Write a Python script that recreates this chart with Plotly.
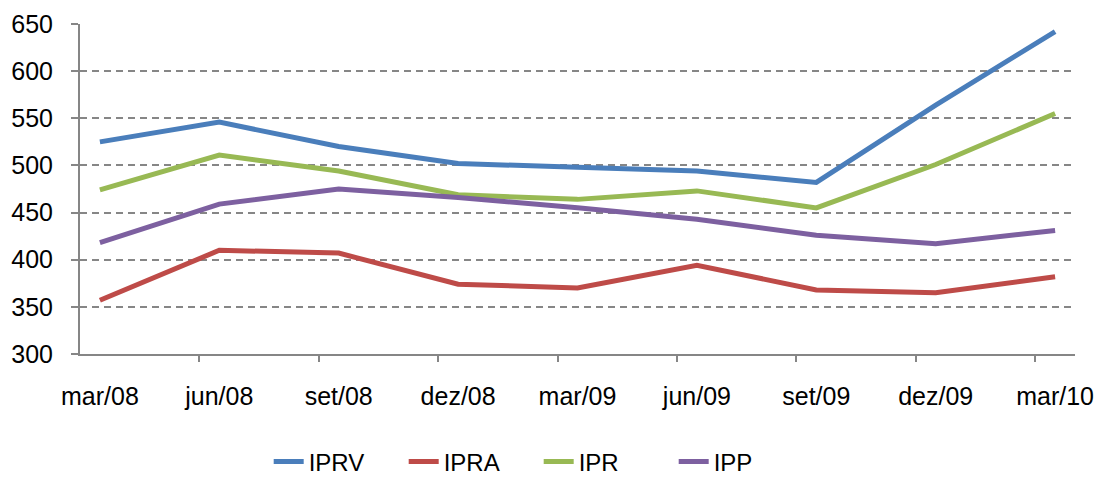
import plotly.graph_objects as go

# Quarterly periods
periods = ["mar/08", "jun/08", "set/08", "dez/08", "mar/09", "jun/09", "set/09", "dez/09", "mar/10"]

# Index series
iprv = [525, 546, 520, 502, 498, 494, 482, 564, 642]
ipra = [357, 410, 407, 374, 370, 394, 368, 365, 382]
ipr = [474, 511, 494, 469, 464, 473, 455, 501, 555]
ipp = [418, 459, 475, 466, 455, 443, 426, 417, 431]

series = [
    ("IPRV", iprv, "#4A7EBB"),
    ("IPRA", ipra, "#BE4B48"),
    ("IPR", ipr, "#98B954"),
    ("IPP", ipp, "#7D60A0"),
]

x = list(range(len(periods)))
x_range = [-1 / 6, len(periods) - 1 + 1 / 6]
# tick marks sit between the date labels on the time axis
tick_marks = [i + 5 / 6 for i in range(len(periods) - 1)]

fig = go.Figure()
for name, vals, color in series:
    fig.add_trace(go.Scatter(
        x=x, y=vals, name=name, mode="lines",
        line=dict(color=color, width=5),
    ))

# invisible trace to activate the tick-mark axis
fig.add_trace(go.Scatter(x=[x_range[0]], y=[300], xaxis="x2", mode="markers",
                         marker=dict(opacity=0), showlegend=False, hoverinfo="skip"))

axis_gray = "#868686"
font = dict(family="Liberation Sans, Arial, sans-serif", size=25, color="#000000")

fig.update_layout(
    width=1100, height=478,
    margin=dict(l=80, r=25, t=24, b=124, autoexpand=False),
    paper_bgcolor="white", plot_bgcolor="white",
    font=font,
    showlegend=True,
    legend=dict(orientation="h", x=0.461, xanchor="center", yref="paper",
                y=-0.327, yanchor="middle",
                font=dict(family=font["family"], size=24, color="#000000"),
                entrywidth=90, entrywidthmode="pixels",
                traceorder="normal"),
    xaxis=dict(
        range=x_range, tickvals=x, ticktext=periods, ticks="", showgrid=False,
        showline=True, linecolor=axis_gray, linewidth=2, zeroline=False,
        ticklabelstandoff=19, automargin=False,
    ),
    xaxis2=dict(
        overlaying="x", range=x_range, tickvals=tick_marks, ticks="outside",
        ticklen=7, tickwidth=2, tickcolor=axis_gray, showticklabels=False,
        showgrid=False, showline=False, zeroline=False, side="bottom",
        automargin=False,
    ),
    yaxis=dict(
        range=[300, 650], dtick=50, tick0=300, ticks="outside", ticklen=7,
        tickwidth=2, tickcolor=axis_gray, showline=True, linecolor=axis_gray,
        linewidth=2, showgrid=True, gridcolor=axis_gray, gridwidth=1.5,
        griddash="7px,5px", zeroline=False, ticklabelstandoff=13,
        automargin=False,
    ),
)

fig.write_html("out.html")
